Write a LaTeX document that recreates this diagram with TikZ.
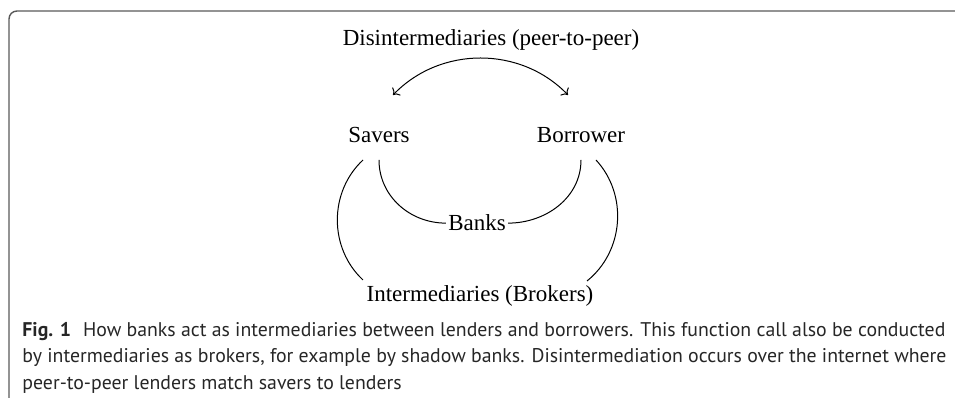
\documentclass[tikz,border=0pt]{standalone}
\usepackage{fontspec}
\setmainfont{Liberation Serif}
\newfontfamily\capfont{PT Sans}
\usetikzlibrary{arrows.meta,positioning}

\begin{document}
\begin{tikzpicture}[x=0.5pt,y=0.5pt,
    lbl/.style={font=\fontsize{11.5}{13}\selectfont, anchor=base, inner sep=3pt},
    captxt/.style={font=\capfont\fontsize{9.9}{12}\selectfont, anchor=base west, inner sep=0pt, text=black!85},
    link/.style={line width=0.5pt}]
    \useasboundingbox (0,0) rectangle (955,400);
    % frame (top and left edge only)
    \draw[line width=0.7pt, black!65, rounded corners=4pt] (9,2) -- (9,389) -- (955,389);
    % labels
    \node[lbl] (dis) at (491,354) {Disintermediaries (peer-to-peer)};
    \node[lbl] (savers) at (379,257) {Savers};
    \node[lbl] (borrower) at (581,257) {Borrower};
    \node[lbl, inner sep=1pt] (banks) at (477,169) {Banks};
    \node[lbl] (brokers) at (480,98) {Intermediaries (Brokers)};
    % free ends of the connectors
    \coordinate (sv-tip) at (393,305);
    \coordinate (bw-tip) at (568,305);
    \coordinate (sv-in) at (379,240);
    \coordinate (sv-out) at (363,240);
    \coordinate (bw-in) at (581,240);
    \coordinate (bw-out) at (596,240);
    \coordinate (ib-l) at (363,120);
    \coordinate (ib-r) at (587,119);
    % peer-to-peer
    \draw[link,<->] (sv-tip) to[bend left=46] (bw-tip);
    % through banks
    \draw[link] (sv-in) to[out=-90,in=180] (banks.west);
    \draw[link] (bw-in) to[out=-90,in=0] (banks.east);
    % through brokers
    \draw[link] (sv-out) to[bend right=47] (ib-l);
    \draw[link] (bw-out) to[bend left=47] (ib-r);
    % caption
    \node[captxt] (cap1) at (22,63) {\textbf{Fig. 1}\hspace{0.6em}How banks act as intermediaries between lenders and borrowers. This function call also be conducted};
    \node[captxt] (cap2) at (22,37) {by intermediaries as brokers, for example by shadow banks. Disintermediation occurs over the internet where};
    \node[captxt] (cap3) at (22,10) {peer-to-peer lenders match savers to lenders};
\end{tikzpicture}
\end{document}
